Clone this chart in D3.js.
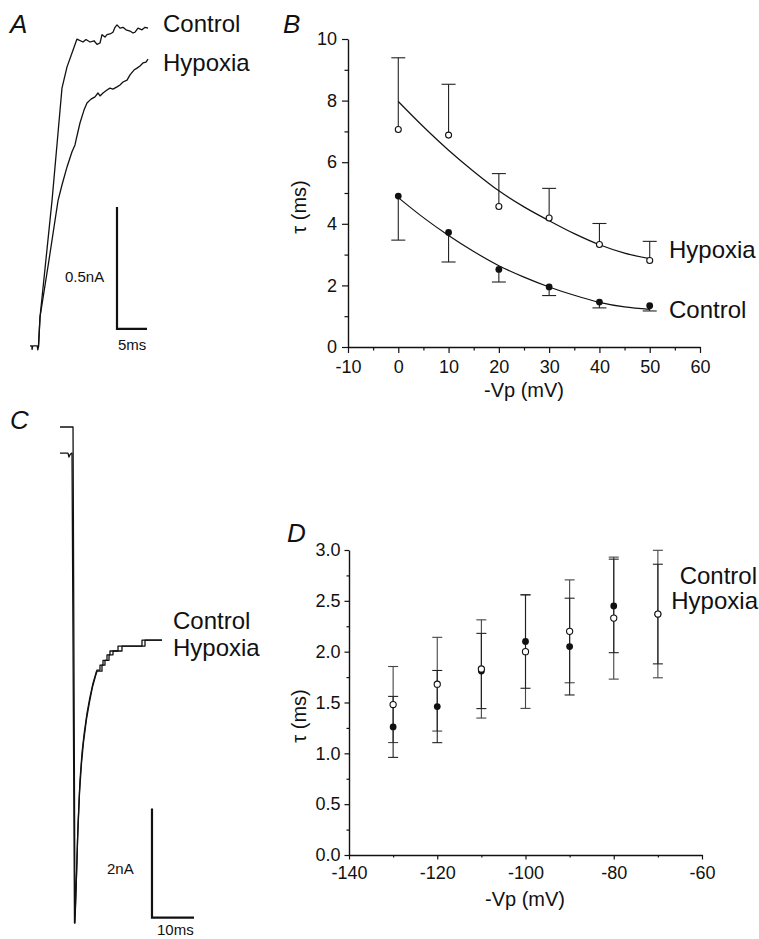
<!DOCTYPE html>
<html>
<head>
<meta charset="utf-8">
<script src="https://cdn.jsdelivr.net/npm/d3@7"></script>
<style>
  html, body { margin: 0; padding: 0; background: #fff; }
  svg { display: block; }
</style>
</head>
<body>
<svg id="fig" width="759" height="939"></svg>
<script>
// ---------------- DATA ----------------
// Panel A: current traces (time in ms, current in nA)
const aControlT = [0, 0.3, 0.35, 0.45, 1.2, 1.3, 1.4, 1.67, 3.67, 4.67, 5.33, 6.17, 7.0, 7.83, 8.83, 9.33, 10.0, 10.67, 11.17, 11.67, 12.0, 12.5, 12.83, 13.33, 13.83, 14.17, 14.5, 15.0, 15.5, 16.0, 16.67, 17.17, 17.5, 18.0, 18.67, 19.17, 19.67];
const aControlI = [0.005, 0.005, -0.01, 0.005, 0.005, -0.012, 0, 0.123, 0.60, 0.877, 1.061, 1.148, 1.205, 1.262, 1.25, 1.26, 1.25, 1.255, 1.24, 1.246, 1.28, 1.27, 1.28, 1.283, 1.29, 1.31, 1.32, 1.307, 1.31, 1.30, 1.295, 1.287, 1.29, 1.307, 1.30, 1.31, 1.307];
const aHypoxiaT = [1.42, 1.67, 3.17, 4.67, 5.33, 6.17, 7.0, 7.5, 7.67, 8.33, 9.0, 9.5, 10.17, 10.83, 11.33, 11.67, 12.17, 12.83, 13.33, 13.83, 14.5, 15.0, 15.5, 16.17, 16.67, 17.33, 17.83, 18.33, 18.83, 19.33, 19.67];
const aHypoxiaI = [0, 0.123, 0.357, 0.60, 0.664, 0.738, 0.80, 0.828, 0.848, 0.918, 0.971, 1.0, 1.016, 1.025, 1.041, 1.029, 1.041, 1.053, 1.061, 1.057, 1.066, 1.074, 1.086, 1.094, 1.115, 1.135, 1.143, 1.152, 1.164, 1.168, 1.18];
const aScaleBar = { t0: 14.5, i0: 0.074, dt: 5, di: 0.5, tLabel: "5ms", iLabel: "0.5nA" };

// Panel B: tau vs -Vp (activation)
const bVoltage = [0, 10, 20, 30, 40, 50];
const bControlTau = [4.90, 3.72, 2.52, 1.95, 1.46, 1.34];
const bControlErr = [1.43, 0.96, 0.41, 0.28, 0.19, 0.17];
const bHypoxiaTau = [7.06, 6.88, 4.56, 4.19, 3.33, 2.81];
const bHypoxiaErr = [2.33, 1.65, 1.07, 0.96, 0.68, 0.62];
const bFitV = [0, 5, 10, 15, 20, 25, 30, 35, 40, 45, 50];
const bFitControl = [4.85, 4.20, 3.62, 3.10, 2.64, 2.27, 1.95, 1.68, 1.45, 1.30, 1.22];
const bFitHypoxia = [7.97, 7.15, 6.39, 5.70, 5.07, 4.55, 4.10, 3.68, 3.32, 3.05, 2.87];
const bXTicks = [-10, 0, 10, 20, 30, 40, 50, 60];
const bXMinor = [-5, 5, 15, 25, 35, 45, 55];
const bYTicks = [0, 2, 4, 6, 8, 10];
const bYMinor = [1, 3, 5, 7, 9];

// Panel C: current traces (time in ms, current in nA)
const cControlT = [0, 3.10, 3.57, 3.81, 4.05, 4.29, 4.76, 5.24, 5.71, 6.43, 7.14, 7.86, 8.57, 8.81, 9.52, 9.52, 10.24, 10.24, 11.19, 11.19, 11.90, 11.90, 13.81, 13.81, 19.52, 19.52, 24.29];
const cControlI = [0, 0, -9.10, -8.50, -7.94, -7.30, -6.48, -5.98, -5.65, -5.25, -4.95, -4.70, -4.51, -4.46, -4.46, -4.37, -4.37, -4.28, -4.28, -4.18, -4.18, -4.11, -4.11, -4.02, -4.02, -3.91, -3.91];
const cHypoxiaT = [0, 1.90, 2.14, 2.38, 2.74, 2.86, 3.45, 3.69, 3.93, 4.17, 4.64, 5.12, 5.60, 6.31, 7.02, 7.74, 8.45, 8.81, 10.00, 10.00, 10.71, 10.71, 11.67, 11.67, 12.62, 12.62, 14.76, 14.76, 20.24, 20.24, 24.29];
const cHypoxiaI = [-0.48, -0.48, -0.55, -0.51, -0.48, -0.48, -9.10, -8.77, -8.22, -7.58, -6.72, -6.17, -5.78, -5.36, -5.05, -4.77, -4.57, -4.48, -4.48, -4.37, -4.37, -4.28, -4.28, -4.18, -4.18, -4.11, -4.11, -4.02, -4.02, -3.91, -3.91];
const cScaleBar = { t0: 21.9, i0: -9.0, dt: 10, di: 2, tLabel: "10ms", iLabel: "2nA" };

// Panel D: tau vs -Vp (deactivation)
const dVoltage = [-130, -120, -110, -100, -90, -80, -70];
const dControlTau = [1.26, 1.46, 1.81, 2.10, 2.05, 2.45, 2.37];
const dControlErr = [0.30, 0.355, 0.37, 0.46, 0.476, 0.46, 0.49];
const dHypoxiaTau = [1.48, 1.68, 1.83, 2.00, 2.20, 2.33, 2.37];
const dHypoxiaErr = [0.374, 0.461, 0.483, 0.558, 0.506, 0.60, 0.627];
const dXTicks = [-140, -120, -100, -80, -60];
const dXMinor = [-130, -110, -90, -70];
const dYTicks = [0, 0.5, 1.0, 1.5, 2.0, 2.5, 3.0];
const dYMinor = [0.25, 0.75, 1.25, 1.75, 2.25, 2.75];

const seriesNames = ["Control", "Hypoxia"];

// ---------------- DRAWING ----------------
const FONT = "'Liberation Sans', Arial, Helvetica, sans-serif";
const svg = d3.select("#fig");
svg.append("rect").attr("width", 759).attr("height", 939).attr("fill", "#fff");

function txt(x, y, s, size, opts = {}) {
  const t = svg.append("text").attr("x", x).attr("y", y).text(s)
    .attr("font-family", FONT).attr("font-size", size).attr("fill", "#111");
  if (opts.anchor) t.attr("text-anchor", opts.anchor);
  if (opts.italic) t.attr("font-style", "italic");
  if (opts.rotate) t.attr("transform", `rotate(-90,${x},${y})`);
  return t;
}

function styleAxis(g, fs) {
  g.select(".domain").attr("stroke", "#111").attr("stroke-width", 1.4);
  g.selectAll(".tick line").attr("stroke", "#111").attr("stroke-width", 1.2);
  g.selectAll(".tick text").attr("font-family", FONT).attr("font-size", fs).attr("fill", "#111");
}

function drawTrace(xs, ys, T, I, w) {
  const line = d3.line().x((d, i) => xs(T[i])).y((d, i) => ys(I[i]));
  svg.append("path").attr("d", line(T)).attr("fill", "none")
    .attr("stroke", "#111").attr("stroke-width", w).attr("stroke-linejoin", "round");
}

function drawScaleBar(xs, ys, sb, lblIX, lblIY, lblTX, lblTY, fs) {
  const p = d3.path();
  p.moveTo(xs(sb.t0), ys(sb.i0 + sb.di));
  p.lineTo(xs(sb.t0), ys(sb.i0));
  p.lineTo(xs(sb.t0 + sb.dt), ys(sb.i0));
  svg.append("path").attr("d", p.toString()).attr("fill", "none")
    .attr("stroke", "#111").attr("stroke-width", 2.2);
  txt(lblIX, lblIY, sb.iLabel, fs);
  txt(lblTX, lblTY, sb.tLabel, fs);
}

// ----- Panel A -----
const axA = d3.scaleLinear().domain([0, 20]).range([30, 150]);
const ayA = d3.scaleLinear().domain([0, 1]).range([347, 103]);
drawTrace(axA, ayA, aControlT, aControlI, 1.3);
drawTrace(axA, ayA, aHypoxiaT, aHypoxiaI, 1.3);
drawScaleBar(axA, ayA, aScaleBar, 65, 282, 118, 350, 15);
txt(10, 33, "A", 26, { italic: true });
txt(163, 32, seriesNames[0], 24);
txt(163, 71, seriesNames[1], 24);

// ----- Panel B -----
const bx = d3.scaleLinear().domain([-10, 60]).range([348, 700]);
const by = d3.scaleLinear().domain([0, 10]).range([347, 39]);
const fmtInt = d => String(d);
let g = svg.append("g").attr("transform", `translate(0,${by(0)})`)
  .call(d3.axisBottom(bx).tickValues(bXMinor).tickSize(3.5).tickFormat("").tickSizeOuter(0));
g.select(".domain").remove(); styleAxis(g, 18);
g = svg.append("g").attr("transform", `translate(${bx(-10)},0)`)
  .call(d3.axisLeft(by).tickValues(bYMinor).tickSize(3.5).tickFormat("").tickSizeOuter(0));
g.select(".domain").remove(); styleAxis(g, 18);
g = svg.append("g").attr("transform", `translate(0,${by(0)})`)
  .call(d3.axisBottom(bx).tickValues(bXTicks).tickSize(6).tickPadding(7).tickSizeOuter(0).tickFormat(fmtInt));
styleAxis(g, 18);
g = svg.append("g").attr("transform", `translate(${bx(-10)},0)`)
  .call(d3.axisLeft(by).tickValues(bYTicks).tickSize(6).tickPadding(5).tickSizeOuter(0).tickFormat(fmtInt));
styleAxis(g, 18);
txt(524, 397, "-Vp (mV)", 20, { anchor: "middle" });
txt(306, 207, "τ (ms)", 20, { anchor: "middle", rotate: true });
txt(283, 33, "B", 26, { italic: true });

// error bars B (hypoxia up, control down)
const bCap = 7;
function errB(vals, errs, dir) {
  vals.forEach((v, i) => {
    const x = bx(bVoltage[i]);
    const yEnd = by(v + dir * errs[i]);
    svg.append("line").attr("x1", x).attr("x2", x).attr("y1", by(v)).attr("y2", yEnd)
      .attr("stroke", "#222").attr("stroke-width", 1.1);
    svg.append("line").attr("x1", x - bCap).attr("x2", x + bCap).attr("y1", yEnd).attr("y2", yEnd)
      .attr("stroke", "#222").attr("stroke-width", 1.1);
  });
}
errB(bHypoxiaTau, bHypoxiaErr, +1);
errB(bControlTau, bControlErr, -1);
const fitLine = vals => d3.line().curve(d3.curveMonotoneX).x((d, i) => bx(bFitV[i])).y((d, i) => by(vals[i]))(bFitV);
svg.append("path").attr("d", fitLine(bFitHypoxia)).attr("fill", "none").attr("stroke", "#111").attr("stroke-width", 1.2);
svg.append("path").attr("d", fitLine(bFitControl)).attr("fill", "none").attr("stroke", "#111").attr("stroke-width", 1.2);
bVoltage.forEach((v, i) => {
  svg.append("circle").attr("cx", bx(v)).attr("cy", by(bControlTau[i])).attr("r", 3.4).attr("fill", "#111");
  svg.append("circle").attr("cx", bx(v)).attr("cy", by(bHypoxiaTau[i])).attr("r", 3.0)
    .attr("fill", "#fff").attr("stroke", "#111").attr("stroke-width", 1.1);
});
txt(669, 258, seriesNames[1], 24);
txt(669, 318, seriesNames[0], 24);

// ----- Panel C -----
const cx = d3.scaleLinear().domain([0, 25]).range([60, 165]);
const cy = d3.scaleLinear().domain([-9.1, 0]).range([923, 427]);
drawTrace(cx, cy, cHypoxiaT, cHypoxiaI, 1.3);
drawTrace(cx, cy, cControlT, cControlI, 1.3);
drawScaleBar(cx, cy, cScaleBar, 107, 874, 157, 935, 15);
txt(10, 429, "C", 26, { italic: true });
txt(173, 629, seriesNames[0], 24);
txt(173, 656, seriesNames[1], 24);

// ----- Panel D -----
const dx = d3.scaleLinear().domain([-140, -60]).range([349, 702]);
const dy = d3.scaleLinear().domain([0, 3]).range([855, 550]);
g = svg.append("g").attr("transform", `translate(0,${dy(0)})`)
  .call(d3.axisBottom(dx).tickValues(dXMinor).tickSize(2.5).tickFormat("").tickSizeOuter(0));
g.select(".domain").remove(); styleAxis(g, 18);
g = svg.append("g").attr("transform", `translate(${dx(-140)},0)`)
  .call(d3.axisLeft(dy).tickValues(dYMinor).tickSize(2.5).tickFormat("").tickSizeOuter(0));
g.select(".domain").remove(); styleAxis(g, 18);
g = svg.append("g").attr("transform", `translate(0,${dy(0)})`)
  .call(d3.axisBottom(dx).tickValues(dXTicks).tickSize(4.5).tickPadding(7).tickSizeOuter(0).tickFormat(fmtInt));
styleAxis(g, 18);
g = svg.append("g").attr("transform", `translate(${dx(-140)},0)`)
  .call(d3.axisLeft(dy).tickValues(dYTicks).tickSize(4.5).tickPadding(4).tickSizeOuter(0).tickFormat(d => d.toFixed(1)));
styleAxis(g, 18);
txt(525, 906, "-Vp (mV)", 20, { anchor: "middle" });
txt(306, 716, "τ (ms)", 20, { anchor: "middle", rotate: true });
txt(287, 542, "D", 26, { italic: true });

const dCap = 5;
function errD(vals, errs, color) {
  vals.forEach((v, i) => {
    const x = dx(dVoltage[i]);
    const y1 = dy(v + errs[i]), y0 = dy(v - errs[i]);
    svg.append("line").attr("x1", x).attr("x2", x).attr("y1", y0).attr("y2", y1)
      .attr("stroke", color).attr("stroke-width", 1.1);
    [y0, y1].forEach(yy => svg.append("line").attr("x1", x - dCap).attr("x2", x + dCap)
      .attr("y1", yy).attr("y2", yy).attr("stroke", color).attr("stroke-width", 1.1));
  });
}
errD(dHypoxiaTau, dHypoxiaErr, "#444");
errD(dControlTau, dControlErr, "#222");
dVoltage.forEach((v, i) => {
  svg.append("circle").attr("cx", dx(v)).attr("cy", dy(dControlTau[i])).attr("r", 3.4).attr("fill", "#111");
});
dVoltage.forEach((v, i) => {
  svg.append("circle").attr("cx", dx(v)).attr("cy", dy(dHypoxiaTau[i])).attr("r", 3.1)
    .attr("fill", "#fff").attr("stroke", "#111").attr("stroke-width", 1.1);
});
txt(757, 584, seriesNames[0], 24, { anchor: "end" });
txt(758, 609, seriesNames[1], 24, { anchor: "end" });
</script>
</body>
</html>
